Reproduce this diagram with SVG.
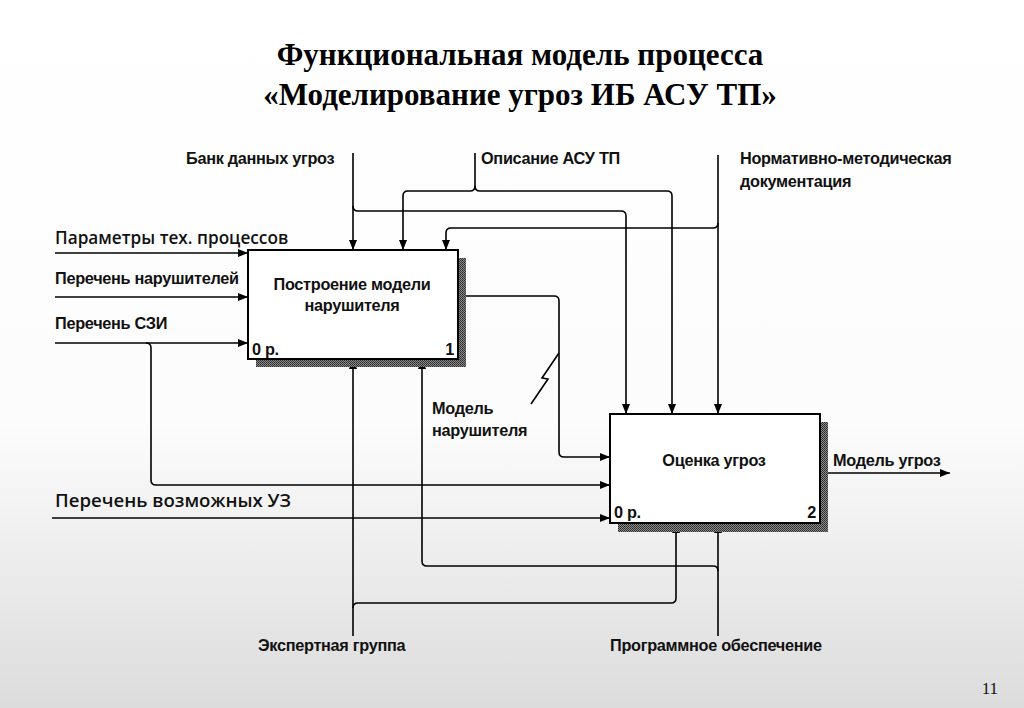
<svg xmlns="http://www.w3.org/2000/svg" width="1024" height="708" viewBox="0 0 1024 708">
<defs>
<linearGradient id="bg" x1="0" y1="0" x2="0" y2="1">
<stop offset="0" stop-color="#ffffff"/>
<stop offset="0.6" stop-color="#fcfcfc"/>
<stop offset="1" stop-color="#dcdcdc"/>
</linearGradient>
<pattern id="hatch" width="2" height="2" patternUnits="userSpaceOnUse">
<rect width="2" height="2" fill="#8a8a8a"/>
<rect width="1" height="1" fill="#2a2a2a"/>
<rect x="1" y="1" width="1" height="1" fill="#3a3a3a"/>
</pattern>
<marker id="arr" viewBox="0 0 10 8" refX="10" refY="4" markerWidth="10" markerHeight="8" markerUnits="userSpaceOnUse" orient="auto">
<path d="M0,0 L10,4 L0,8 Z" fill="#000"/>
</marker>
<style>
.ln{fill:none;stroke:#000;stroke-width:1.6}
.box{fill:#fff;stroke:#000;stroke-width:2}
.sh{fill:url(#hatch)}
.lb{font-family:"Liberation Sans",Arial,sans-serif;font-size:16.3px;font-weight:bold;fill:#111;letter-spacing:-0.3px}
.lb2{font-family:"Open Sans","Liberation Sans",sans-serif;font-weight:600;fill:#111}
.tt{font-family:"Liberation Serif","Times New Roman",serif;font-size:31px;font-weight:bold;fill:#000}
.cn{font-family:"Liberation Sans",Arial,sans-serif;font-size:16.3px;font-weight:bold;fill:#111;letter-spacing:-0.3px}
</style>
</defs>
<rect width="1024" height="708" fill="url(#bg)"/>

<g id="title">
<text class="tt" x="520" y="65" text-anchor="middle">Функциональная модель процесса</text>
<text class="tt" x="520" y="105" text-anchor="middle">«Моделирование угроз ИБ АСУ ТП»</text>
</g>

<g id="connectors">
<!-- Банк данных угроз -->
<path class="ln" d="M353,153 V250" marker-end="url(#arr)"/>
<path class="ln" d="M353,206 Q353,211 358,211 H621 Q626,211 626,216 V414" marker-end="url(#arr)"/>
<!-- Описание АСУ ТП -->
<path class="ln" d="M475,153 V186 Q475,191 470,191 H408 Q403,191 403,196 V250" marker-end="url(#arr)"/>
<path class="ln" d="M475,186 Q475,191 480,191 H667 Q672,191 672,196 V414" marker-end="url(#arr)"/>
<!-- Нормативно-методическая документация -->
<path class="ln" d="M718,155 V414" marker-end="url(#arr)"/>
<path class="ln" d="M718,223 Q718,228 713,228 H451 Q446,228 446,233 V250" marker-end="url(#arr)"/>
<!-- Inputs box 1 -->
<path class="ln" d="M55,253 H248" marker-end="url(#arr)"/>
<path class="ln" d="M55,297 H248" marker-end="url(#arr)"/>
<path class="ln" d="M55,343 H248" marker-end="url(#arr)"/>
<path class="ln" d="M146,343 Q151,343 151,348 V480 Q151,485 156,485 H610" marker-end="url(#arr)"/>
<!-- Перечень возможных УЗ -->
<path class="ln" d="M52,518 H610" marker-end="url(#arr)"/>
<!-- Output box 1 -->
<path class="ln" d="M458,296 H554 Q559,296 559,301 V452 Q559,457 564,457 H610" marker-end="url(#arr)"/>
<path class="ln" d="M559,353 L542,378 L548,379 L531,404"/>
<!-- Output box 2 -->
<path class="ln" d="M820,473 H950" marker-end="url(#arr)"/>
<!-- Экспертная группа -->
<path class="ln" d="M353,636 V359" marker-end="url(#arr)"/>
<path class="ln" d="M353,608 Q353,603 358,603 H671 Q676,603 676,598 V523" marker-end="url(#arr)"/>
<!-- Программное обеспечение -->
<path class="ln" d="M718,636 V523" marker-end="url(#arr)"/>
<path class="ln" d="M718,571 Q718,566 713,566 H427 Q422,566 422,561 V359" marker-end="url(#arr)"/>
</g>

<g id="node1">
<rect class="sh" x="256" y="258" width="210" height="109"/>
<rect class="box" x="248" y="250" width="210" height="109"/>
<text class="cn" x="352" y="290" text-anchor="middle">Построение модели</text>
<text class="cn" x="352" y="311" text-anchor="middle">нарушителя</text>
<text class="cn" x="252" y="355">0 р.</text>
<text class="cn" x="454" y="355" text-anchor="end">1</text>
</g>

<g id="node2">
<rect class="sh" x="618" y="422" width="210" height="110"/>
<rect class="box" x="610" y="414" width="210" height="109"/>
<text class="cn" x="714" y="466" text-anchor="middle">Оценка угроз</text>
<text class="cn" x="614" y="518">0 р.</text>
<text class="cn" x="816" y="518" text-anchor="end">2</text>
</g>

<g id="labels">
<text class="lb" x="186" y="164">Банк данных угроз</text>
<text class="lb" x="481" y="164">Описание АСУ ТП</text>
<text class="lb" x="740" y="164">Нормативно-методическая</text>
<text class="lb" x="740" y="187">документация</text>
<text class="lb2" x="55" y="244" style="font-size:17.2px">Параметры тех. процессов</text>
<text class="lb" x="55" y="284">Перечень нарушителей</text>
<text class="lb" x="55" y="329">Перечень СЗИ</text>
<text class="lb2" x="55" y="507" style="font-size:18.6px">Перечень возможных УЗ</text>
<text class="lb" x="432" y="414">Модель</text>
<text class="lb" x="432" y="436">нарушителя</text>
<text class="lb" x="833" y="466">Модель угроз</text>
<text class="lb" x="258" y="651">Экспертная группа</text>
<text class="lb" x="610" y="651">Программное обеспечение</text>
<text x="998" y="694" text-anchor="end" style="font-family:'Liberation Serif',serif;font-size:17px;fill:#111">11</text>
</g>
</svg>
